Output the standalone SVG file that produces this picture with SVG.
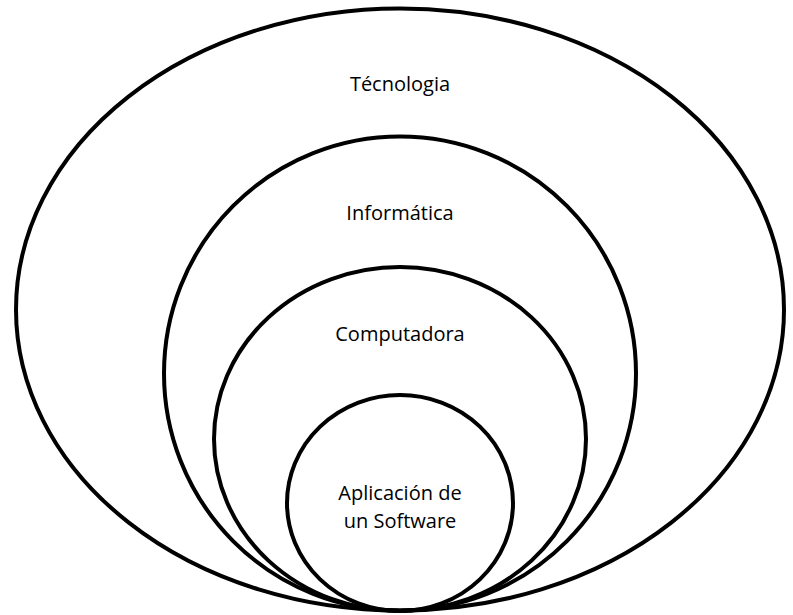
<svg xmlns="http://www.w3.org/2000/svg" width="793" height="615" viewBox="0 0 793 615">
<style>
.e{fill:none;stroke:#000;stroke-width:4}
.t{font-family:"Open Sans","Liberation Sans",sans-serif;font-size:20px;fill:#000;text-anchor:middle}
</style>
<rect width="793" height="615" fill="#fff"/>
<g id="tecnologia"><ellipse class="e" cx="400" cy="309.5" rx="384" ry="301"/><text class="t" x="400" y="91">Técnologia</text></g>
<g id="informatica"><ellipse class="e" cx="400" cy="373.5" rx="236" ry="237"/><text class="t" x="400" y="220">Informática</text></g>
<g id="computadora"><ellipse class="e" cx="400" cy="439" rx="186" ry="172"/><text class="t" x="400" y="341">Computadora</text></g>
<g id="aplicacion"><ellipse class="e" cx="400" cy="503" rx="113" ry="108"/><text class="t" x="400" y="500">Aplicación de</text><text class="t" x="400" y="528">un Software</text></g>
<g id="connectors"/>
</svg>
